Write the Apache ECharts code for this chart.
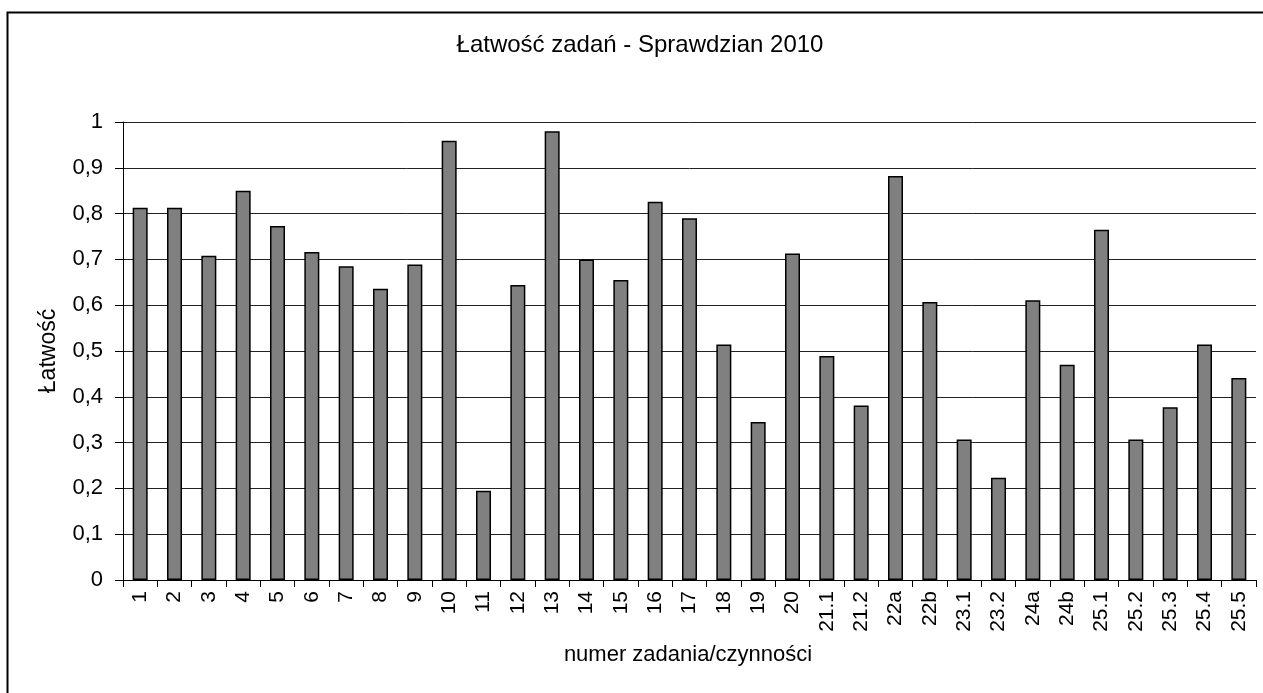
<!DOCTYPE html>
<html>
<head>
<meta charset="utf-8">
<title>Łatwość zadań - Sprawdzian 2010</title>
<script src="https://cdn.jsdelivr.net/npm/echarts@6/dist/echarts.min.js"></script>
<style>
  html, body { margin: 0; padding: 0; background: #fff; }
  #chart { width: 1263px; height: 693px; }
</style>
</head>
<body>
<div id="chart"></div>
<script>
// numery zadań / czynności
const categories = [
  "1", "2", "3", "4", "5", "6", "7", "8", "9", "10",
  "11", "12", "13", "14", "15", "16", "17", "18", "19", "20",
  "21.1", "21.2", "22a", "22b", "23.1", "23.2", "24a", "24b",
  "25.1", "25.2", "25.3", "25.4", "25.5"
];
// łatwość
const latwosc = [
  0.813, 0.813, 0.708, 0.850, 0.773, 0.716, 0.685, 0.636, 0.689, 0.959,
  0.195, 0.644, 0.980, 0.700, 0.655, 0.826, 0.790, 0.514, 0.345, 0.713,
  0.489, 0.381, 0.882, 0.607, 0.307, 0.223, 0.611, 0.470,
  0.765, 0.307, 0.377, 0.514, 0.441
];
const titleText = "Łatwość zadań - Sprawdzian 2010";
const xName = "numer zadania/czynności";
const yName = "Łatwość";

const font = '"Liberation Sans", Arial, sans-serif';

const chart = echarts.init(document.getElementById("chart"));

const option = {
  animation: false,
  backgroundColor: "#fff",
  textStyle: { fontFamily: font, color: "#000" },
  grid: { left: 123, right: 7, top: 122, bottom: 113, containLabel: false },
  graphic: [
    {
      // ramka wykresu
      type: "rect",
      shape: { x: 7.5, y: 12.5, width: 1300, height: 800 },
      style: { fill: "none", stroke: "#000", lineWidth: 2 },
      silent: true
    },
    {
      type: "text",
      x: 640,
      y: 45,
      style: {
        text: titleText,
        font: "24px " + font,
        fill: "#000",
        textAlign: "center",
        textVerticalAlign: "middle"
      }
    },
    {
      type: "text",
      x: 688,
      y: 655,
      style: {
        text: xName,
        font: "22px " + font,
        fill: "#000",
        textAlign: "center",
        textVerticalAlign: "middle"
      }
    }
  ],
  xAxis: {
    type: "category",
    data: categories,
    boundaryGap: true,
    axisLine: { show: true, lineStyle: { color: "#000", width: 1 } },
    axisTick: { show: true, interval: 0, length: 7, alignWithLabel: false, lineStyle: { color: "#000" } },
    axisLabel: {
      interval: 0,
      rotate: 90,
      margin: 11,
      fontSize: 21,
      fontFamily: font,
      color: "#000"
    },
    splitLine: { show: false }
  },
  yAxis: {
    type: "value",
    min: 0,
    max: 1,
    interval: 0.1,
    name: yName,
    nameLocation: "middle",
    nameGap: 63,
    nameTextStyle: { fontSize: 23, fontFamily: font, color: "#000" },
    axisLine: { show: true, lineStyle: { color: "#000", width: 1 } },
    axisTick: { show: true, length: 8, lineStyle: { color: "#000" } },
    axisLabel: {
      margin: 20,
      fontSize: 22,
      fontFamily: font,
      color: "#000",
      formatter: function (v) {
        return String(Math.round(v * 10) / 10).replace(".", ",");
      }
    },
    splitLine: { show: true, lineStyle: { color: "#222", width: 1 } }
  },
  series: [
    {
      type: "bar",
      data: latwosc,
      barWidth: 15,
      itemStyle: { color: "#808080", borderColor: "#000", borderWidth: 1.5 },
      silent: true
    }
  ]
};

chart.setOption(option);
</script>
</body>
</html>
